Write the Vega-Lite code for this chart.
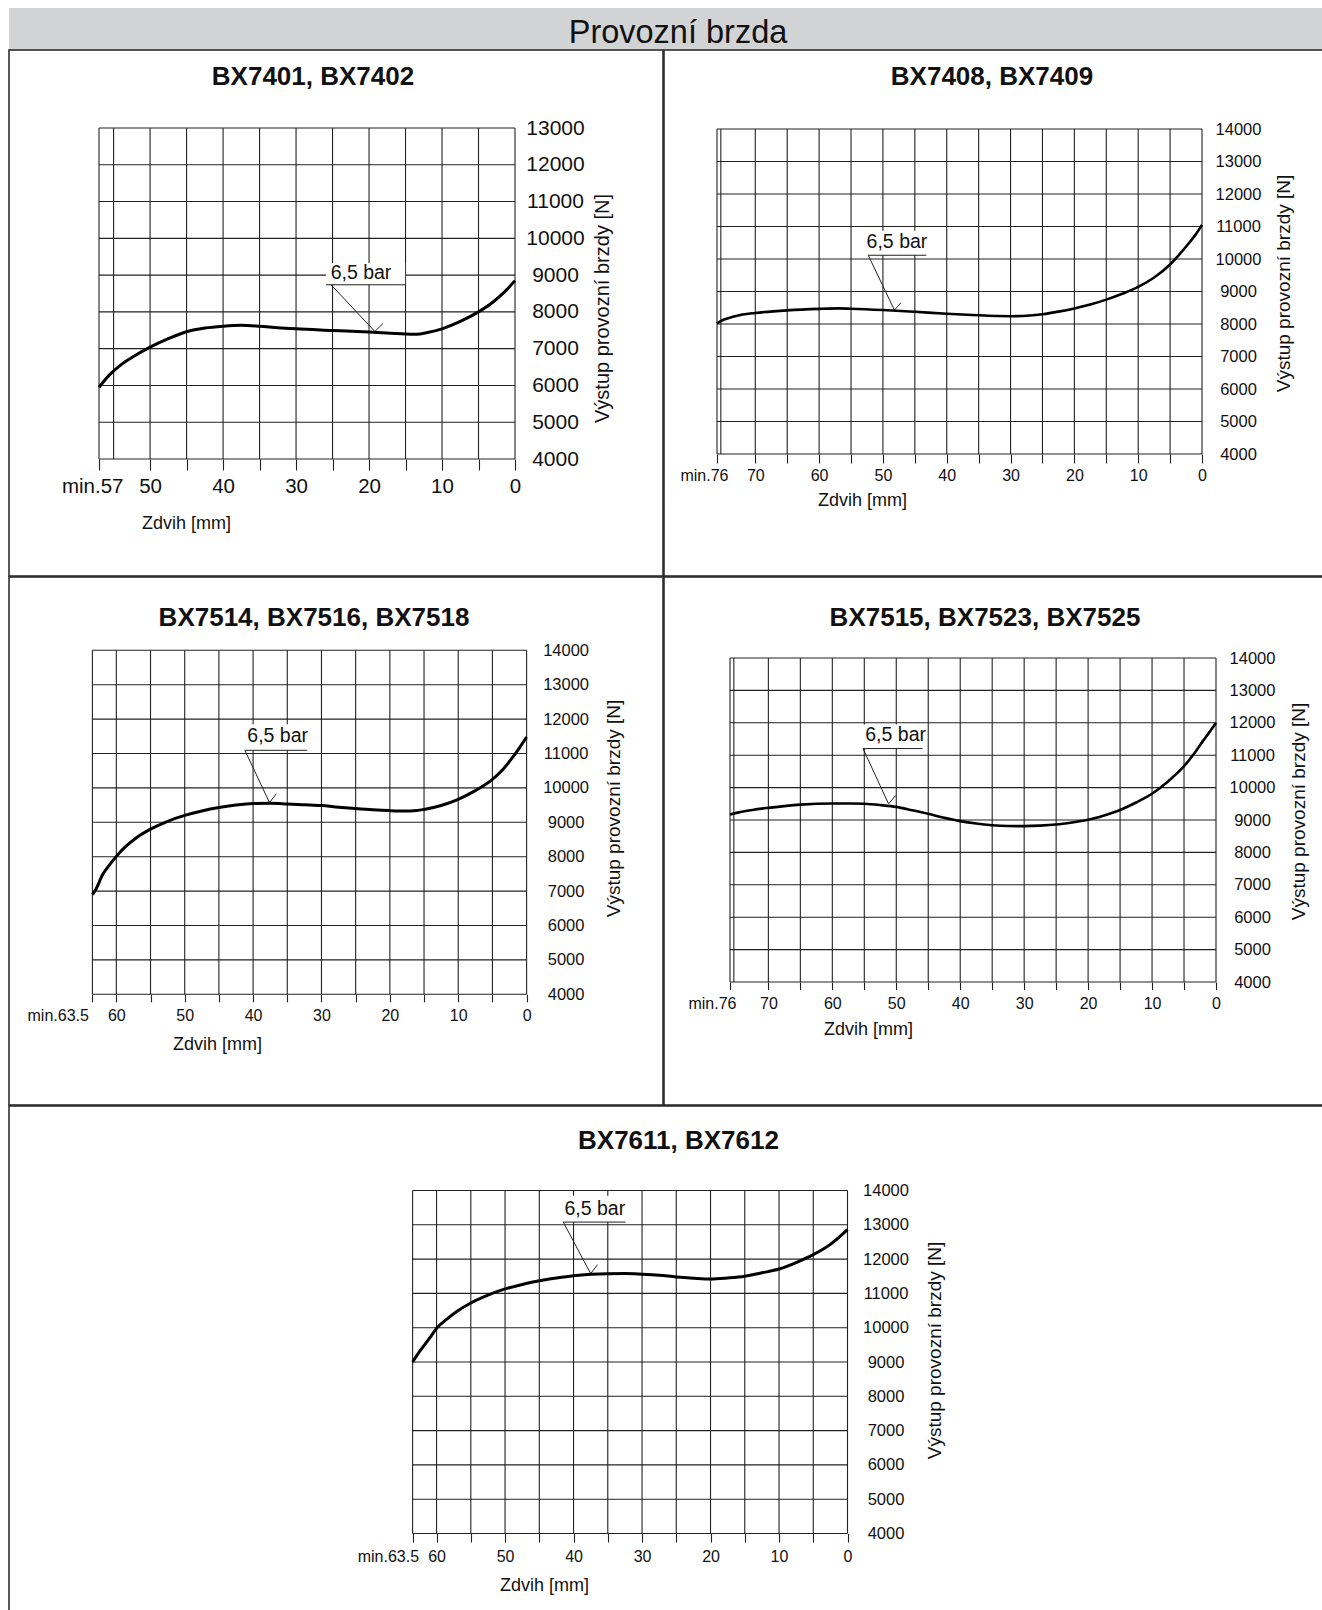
{
  "$schema": "https://vega.github.io/schema/vega-lite/v6.json",
  "padding": {"left": 8, "top": 8, "right": 0, "bottom": 0},
  "spacing": -1.5,
  "datasets": {
    "vx1": [{"x":57},{"x":55},{"x":50},{"x":45},{"x":40},{"x":35},{"x":30},{"x":25},{"x":20},{"x":15},{"x":10},{"x":5},{"x":0}],
    "hy1": [{"y":4000},{"y":5000},{"y":6000},{"y":7000},{"y":8000},{"y":9000},{"y":10000},{"y":11000},{"y":12000},{"y":13000}],
    "vx76": [{"x":76},{"x":75.4},{"x":70},{"x":65},{"x":60},{"x":55},{"x":50},{"x":45},{"x":40},{"x":35},{"x":30},{"x":25},{"x":20},{"x":15},{"x":10},{"x":5},{"x":0}],
    "vx63": [{"x":63.5},{"x":60},{"x":55},{"x":50},{"x":45},{"x":40},{"x":35},{"x":30},{"x":25},{"x":20},{"x":15},{"x":10},{"x":5},{"x":0}],
    "hy14": [{"y":4000},{"y":5000},{"y":6000},{"y":7000},{"y":8000},{"y":9000},{"y":10000},{"y":11000},{"y":12000},{"y":13000},{"y":14000}],
    "c1": [{"x":57,"y":5950},{"x":55.5,"y":6300},{"x":54,"y":6560},{"x":52,"y":6820},{"x":50,"y":7040},{"x":47.5,"y":7270},{"x":45,"y":7460},{"x":42.5,"y":7560},{"x":40,"y":7610},{"x":37.5,"y":7635},{"x":35,"y":7610},{"x":32.5,"y":7570},{"x":30,"y":7540},{"x":25,"y":7495},{"x":20,"y":7450},{"x":17,"y":7420},{"x":15,"y":7400},{"x":13.5,"y":7395},{"x":12,"y":7440},{"x":10,"y":7540},{"x":7.5,"y":7740},{"x":5,"y":8000},{"x":3,"y":8270},{"x":1.5,"y":8530},{"x":0,"y":8850}],
    "c2": [{"x":76,"y":8020},{"x":75,"y":8130},{"x":73.5,"y":8220},{"x":72,"y":8290},{"x":70,"y":8340},{"x":65,"y":8420},{"x":60,"y":8465},{"x":57,"y":8480},{"x":55,"y":8470},{"x":50,"y":8430},{"x":45,"y":8375},{"x":40,"y":8315},{"x":35,"y":8270},{"x":32,"y":8245},{"x":30,"y":8240},{"x":27,"y":8260},{"x":25,"y":8300},{"x":22.5,"y":8380},{"x":20,"y":8480},{"x":17.5,"y":8600},{"x":15,"y":8750},{"x":12.5,"y":8930},{"x":10,"y":9140},{"x":7.5,"y":9430},{"x":5,"y":9830},{"x":3.5,"y":10150},{"x":2,"y":10500},{"x":1,"y":10750},{"x":0,"y":11050}],
    "c3": [{"x":63.5,"y":6900},{"x":63,"y":7050},{"x":62,"y":7480},{"x":61,"y":7760},{"x":60,"y":8010},{"x":58.5,"y":8320},{"x":57,"y":8560},{"x":55,"y":8800},{"x":52.5,"y":9030},{"x":50,"y":9200},{"x":47.5,"y":9330},{"x":45,"y":9430},{"x":42.5,"y":9500},{"x":40,"y":9545},{"x":37.5,"y":9555},{"x":35,"y":9535},{"x":32.5,"y":9510},{"x":30,"y":9485},{"x":27.5,"y":9440},{"x":25,"y":9400},{"x":22.5,"y":9365},{"x":20,"y":9340},{"x":18,"y":9330},{"x":16,"y":9345},{"x":15,"y":9375},{"x":12.5,"y":9490},{"x":10,"y":9670},{"x":7.5,"y":9920},{"x":5,"y":10250},{"x":3.5,"y":10530},{"x":2,"y":10900},{"x":1,"y":11180},{"x":0,"y":11480}],
    "c4": [{"x":76,"y":9170},{"x":75,"y":9220},{"x":72.5,"y":9310},{"x":70,"y":9375},{"x":65,"y":9475},{"x":60,"y":9510},{"x":57,"y":9510},{"x":55,"y":9500},{"x":52.5,"y":9460},{"x":50,"y":9405},{"x":47.5,"y":9300},{"x":45,"y":9190},{"x":42.5,"y":9070},{"x":40,"y":8965},{"x":37.5,"y":8890},{"x":35,"y":8840},{"x":32.5,"y":8815},{"x":30,"y":8810},{"x":27.5,"y":8825},{"x":25,"y":8860},{"x":22.5,"y":8925},{"x":20,"y":9005},{"x":17.5,"y":9140},{"x":15,"y":9310},{"x":12.5,"y":9540},{"x":10,"y":9810},{"x":7.5,"y":10190},{"x":5,"y":10660},{"x":3.5,"y":11030},{"x":2,"y":11450},{"x":1,"y":11720},{"x":0,"y":12000}],
    "c5": [{"x":63.5,"y":9000},{"x":62.5,"y":9300},{"x":61,"y":9700},{"x":60,"y":9980},{"x":58.5,"y":10250},{"x":57,"y":10480},{"x":55,"y":10720},{"x":52.5,"y":10950},{"x":50,"y":11130},{"x":47.5,"y":11260},{"x":45,"y":11370},{"x":42.5,"y":11450},{"x":40,"y":11515},{"x":37.5,"y":11555},{"x":35,"y":11575},{"x":32.5,"y":11580},{"x":30,"y":11560},{"x":27.5,"y":11530},{"x":25,"y":11480},{"x":22.5,"y":11445},{"x":20,"y":11420},{"x":17.5,"y":11450},{"x":15,"y":11500},{"x":12.5,"y":11600},{"x":10,"y":11710},{"x":7.5,"y":11900},{"x":5,"y":12130},{"x":2.5,"y":12430},{"x":0,"y":12860}],
    "a1": [{"part":"box","x":25.9,"x2":15.05,"y":8737,"y2":9330},{"part":"seg","x":25.9,"x2":15.05,"y":8737,"y2":8737},{"part":"seg","x":25.2,"x2":19.2,"y":8737,"y2":7466},{"part":"seg","x":19.2,"x2":18.1,"y":7466,"y2":7680},{"part":"label","x":21.1,"y":9054,"label":"6,5 bar"}],
    "a2": [{"part":"box","x":52.3,"x2":43.2,"y":10115,"y2":10870},{"part":"seg","x":52.3,"x2":43.2,"y":10115,"y2":10115},{"part":"seg","x":52.3,"x2":48.2,"y":10115,"y2":8427},{"part":"seg","x":48.2,"x2":47.2,"y":8427,"y2":8650},{"part":"label","x":47.8,"y":10523,"label":"6,5 bar"}],
    "a3": [{"part":"box","x":41.2,"x2":32.1,"y":11093,"y2":11850},{"part":"seg","x":41.2,"x2":32.1,"y":11093,"y2":11093},{"part":"seg","x":41.2,"x2":37.6,"y":11093,"y2":9572},{"part":"seg","x":37.6,"x2":36.6,"y":9572,"y2":9833},{"part":"label","x":36.4,"y":11510,"label":"6,5 bar"}],
    "a4": [{"part":"box","x":55.2,"x2":45.9,"y":11205,"y2":11950},{"part":"seg","x":55.2,"x2":45.9,"y":11205,"y2":11205},{"part":"seg","x":55.2,"x2":51.2,"y":11205,"y2":9498},{"part":"seg","x":51.2,"x2":50.1,"y":9498,"y2":9755},{"part":"label","x":50.1,"y":11636,"label":"6,5 bar"}],
    "a5": [{"part":"box","x":41.5,"x2":32.4,"y":13079,"y2":13850},{"part":"seg","x":41.5,"x2":32.4,"y":13079,"y2":13079},{"part":"seg","x":41.5,"x2":37.5,"y":13079,"y2":11575},{"part":"seg","x":37.5,"x2":36.5,"y":11575,"y2":11837},{"part":"label","x":36.9,"y":13467,"label":"6,5 bar"}]
  },
  "vconcat": [
    {
      "width": 1314, "height": 42,
      "data": {"values": []},
      "mark": "point",
      "view": {"fill": "#d2d3d4"},
      "title": {"text": "Provozní brzda", "anchor": "middle", "frame": "group", "offset": -41, "dx": 12, "fontSize": 32.5, "fontWeight": "normal", "color": "#111"}
    },
    {
      "spacing": -1.5,
      "hconcat": [
        {
          "width": 654, "height": 526,
          "title": {"text": "BX7401, BX7402", "anchor": "middle", "frame": "group", "offset": -40, "dx": -23, "fontSize": 26, "fontWeight": "bold", "color": "#111"},
          "layer": [
            {"data": {"name": "vx1"}, "mark": {"type": "rule", "color": "#222", "strokeWidth": 1.1},
             "encoding": {"x": {"field": "x", "type": "quantitative", "scale": {"domain": [57, 0], "range": [90, 506], "nice": false, "zero": false}},
                          "y": {"datum": 4000, "type": "quantitative", "scale": {"domain": [4000, 13000], "range": [409, 78], "nice": false, "zero": false}},
                          "y2": {"datum": 13000}}},
            {"data": {"name": "hy1"}, "mark": {"type": "rule", "color": "#222", "strokeWidth": 1.1},
             "encoding": {"y": {"field": "y", "type": "quantitative"}, "x": {"datum": 57, "type": "quantitative"}, "x2": {"datum": 0}}},
            {"data": {"name": "a1"}, "transform": [{"filter": "datum.part == 'box'"}], "mark": {"type": "rect", "fill": "#ffffff"},
             "encoding": {"x": {"field": "x", "type": "quantitative"}, "x2": {"field": "x2"}, "y": {"field": "y", "type": "quantitative"}, "y2": {"field": "y2"}}},
            {"data": {"name": "a1"}, "transform": [{"filter": "datum.part == 'seg'"}], "mark": {"type": "rule", "color": "#222", "strokeWidth": 1},
             "encoding": {"x": {"field": "x", "type": "quantitative"}, "x2": {"field": "x2"}, "y": {"field": "y", "type": "quantitative"}, "y2": {"field": "y2"}}},
            {"data": {"name": "a1"}, "transform": [{"filter": "datum.part == 'label'"}], "mark": {"type": "text", "fontSize": 19.5, "align": "center", "baseline": "middle", "color": "#111"},
             "encoding": {"x": {"field": "x", "type": "quantitative"}, "y": {"field": "y", "type": "quantitative"}, "text": {"field": "label"}}},
            {"data": {"name": "c1"}, "mark": {"type": "line", "color": "#000", "strokeWidth": 3, "interpolate": "monotone"},
             "encoding": {"x": {"field": "x", "type": "quantitative"}, "y": {"field": "y", "type": "quantitative"}}}
          ],
          "encoding": {
            "x": {"type": "quantitative",
                  "axis": {"orient": "bottom", "offset": -117, "values": [57,50,45,40,35,30,25,20,15,10,5,0], "format": "d", "tickSize": 11, "labelFontSize": 20.5, "labelBaseline": "middle", "labelPadding": 16,
                           "labelExpr": "datum.value == 57 ? 'min.57' : (datum.value % 10 == 0 ? datum.label : '')",
                           "labelAlign": {"condition": {"test": "datum.value == 57", "value": "right"}, "value": "center"},
                           "labelOffset": {"condition": {"test": "datum.value == 57", "value": 24}, "value": 0},
                           "title": "Zdvih [mm]", "titleFontSize": 18, "titleX": 177, "titleY": 64, "titleAlign": "center", "titleBaseline": "middle"}},
            "y": {"type": "quantitative",
                  "axis": {"orient": "right", "offset": -148, "values": [4000,5000,6000,7000,8000,9000,10000,11000,12000,13000], "format": "d", "ticks": false, "labelFontSize": 21, "labelAlign": "center", "labelBaseline": "middle", "labelPadding": 40,
                           "title": "Výstup provozní brzdy [N]", "titleFontSize": 20, "titleAngle": 270, "titleX": 87, "titleY": 258, "titleAlign": "center", "titleBaseline": "middle"}}
          }
        },
        {
          "width": 661, "height": 526,
          "title": {"text": "BX7408, BX7409", "anchor": "middle", "frame": "group", "offset": -40, "dx": -2.5, "fontSize": 26, "fontWeight": "bold", "color": "#111"},
          "layer": [
            {"data": {"name": "vx76"}, "mark": {"type": "rule", "color": "#222", "strokeWidth": 1.1},
             "encoding": {"x": {"field": "x", "type": "quantitative", "scale": {"domain": [76, 0], "range": [53, 538], "nice": false, "zero": false}},
                          "y": {"datum": 4000, "type": "quantitative", "scale": {"domain": [4000, 14000], "range": [404, 79], "nice": false, "zero": false}},
                          "y2": {"datum": 14000}}},
            {"data": {"name": "hy14"}, "mark": {"type": "rule", "color": "#222", "strokeWidth": 1.1},
             "encoding": {"y": {"field": "y", "type": "quantitative"}, "x": {"datum": 76, "type": "quantitative"}, "x2": {"datum": 0}}},
            {"data": {"name": "a2"}, "transform": [{"filter": "datum.part == 'box'"}], "mark": {"type": "rect", "fill": "#ffffff"},
             "encoding": {"x": {"field": "x", "type": "quantitative"}, "x2": {"field": "x2"}, "y": {"field": "y", "type": "quantitative"}, "y2": {"field": "y2"}}},
            {"data": {"name": "a2"}, "transform": [{"filter": "datum.part == 'seg'"}], "mark": {"type": "rule", "color": "#222", "strokeWidth": 1},
             "encoding": {"x": {"field": "x", "type": "quantitative"}, "x2": {"field": "x2"}, "y": {"field": "y", "type": "quantitative"}, "y2": {"field": "y2"}}},
            {"data": {"name": "a2"}, "transform": [{"filter": "datum.part == 'label'"}], "mark": {"type": "text", "fontSize": 19.5, "align": "center", "baseline": "middle", "color": "#111"},
             "encoding": {"x": {"field": "x", "type": "quantitative"}, "y": {"field": "y", "type": "quantitative"}, "text": {"field": "label"}}},
            {"data": {"name": "c2"}, "mark": {"type": "line", "color": "#000", "strokeWidth": 2.6, "interpolate": "monotone"},
             "encoding": {"x": {"field": "x", "type": "quantitative"}, "y": {"field": "y", "type": "quantitative"}}}
          ],
          "encoding": {
            "x": {"type": "quantitative",
                  "axis": {"orient": "bottom", "offset": -122, "values": [76,70,65,60,55,50,45,40,35,30,25,20,15,10,5,0], "format": "d", "tickSize": 9, "labelFontSize": 16, "labelBaseline": "middle", "labelPadding": 12,
                           "labelExpr": "datum.value == 76 ? 'min.76' : (datum.value % 10 == 0 ? datum.label : '')",
                           "labelAlign": {"condition": {"test": "datum.value == 76", "value": "right"}, "value": "center"},
                           "labelOffset": {"condition": {"test": "datum.value == 76", "value": 11}, "value": 0},
                           "title": "Zdvih [mm]", "titleFontSize": 18, "titleX": 198, "titleY": 46, "titleAlign": "center", "titleBaseline": "middle"}},
            "y": {"type": "quantitative",
                  "axis": {"orient": "right", "offset": -123, "values": [4000,5000,6000,7000,8000,9000,10000,11000,12000,13000,14000], "format": "d", "ticks": false, "labelFontSize": 16.5, "labelAlign": "center", "labelBaseline": "middle", "labelPadding": 36,
                           "title": "Výstup provozní brzdy  [N]", "titleFontSize": 19, "titleAngle": 270, "titleX": 81, "titleY": 233, "titleAlign": "center", "titleBaseline": "middle"}}
          }
        }
      ]
    },
    {
      "spacing": -1.5,
      "hconcat": [
        {
          "width": 654, "height": 528,
          "title": {"text": "BX7514, BX7516, BX7518", "anchor": "middle", "frame": "group", "offset": -54, "dx": -22, "fontSize": 26, "fontWeight": "bold", "color": "#111"},
          "layer": [
            {"data": {"name": "vx63"}, "mark": {"type": "rule", "color": "#222", "strokeWidth": 1.1},
             "encoding": {"x": {"field": "x", "type": "quantitative", "scale": {"domain": [63.5, 0], "range": [83.4, 517.6], "nice": false, "zero": false}},
                          "y": {"datum": 4000, "type": "quantitative", "scale": {"domain": [4000, 14000], "range": [417.3, 73.3], "nice": false, "zero": false}},
                          "y2": {"datum": 14000}}},
            {"data": {"name": "hy14"}, "mark": {"type": "rule", "color": "#222", "strokeWidth": 1.1},
             "encoding": {"y": {"field": "y", "type": "quantitative"}, "x": {"datum": 63.5, "type": "quantitative"}, "x2": {"datum": 0}}},
            {"data": {"name": "a3"}, "transform": [{"filter": "datum.part == 'box'"}], "mark": {"type": "rect", "fill": "#ffffff"},
             "encoding": {"x": {"field": "x", "type": "quantitative"}, "x2": {"field": "x2"}, "y": {"field": "y", "type": "quantitative"}, "y2": {"field": "y2"}}},
            {"data": {"name": "a3"}, "transform": [{"filter": "datum.part == 'seg'"}], "mark": {"type": "rule", "color": "#222", "strokeWidth": 1},
             "encoding": {"x": {"field": "x", "type": "quantitative"}, "x2": {"field": "x2"}, "y": {"field": "y", "type": "quantitative"}, "y2": {"field": "y2"}}},
            {"data": {"name": "a3"}, "transform": [{"filter": "datum.part == 'label'"}], "mark": {"type": "text", "fontSize": 19.5, "align": "center", "baseline": "middle", "color": "#111"},
             "encoding": {"x": {"field": "x", "type": "quantitative"}, "y": {"field": "y", "type": "quantitative"}, "text": {"field": "label"}}},
            {"data": {"name": "c3"}, "mark": {"type": "line", "color": "#000", "strokeWidth": 3, "interpolate": "monotone"},
             "encoding": {"x": {"field": "x", "type": "quantitative"}, "y": {"field": "y", "type": "quantitative"}}}
          ],
          "encoding": {
            "x": {"type": "quantitative",
                  "axis": {"orient": "bottom", "offset": -110.7, "values": [63.5,60,55,50,45,40,35,30,25,20,15,10,5,0], "tickSize": 7.5, "labelFontSize": 16, "labelBaseline": "middle", "labelPadding": 14,
                           "labelExpr": "datum.value == 63.5 ? 'min.63.5' : (datum.value % 10 == 0 ? format(datum.value, 'd') : '')",
                           "labelAlign": {"condition": {"test": "datum.value == 63.5", "value": "right"}, "value": "center"},
                           "labelOffset": {"condition": {"test": "datum.value == 63.5", "value": -4}, "value": 0},
                           "title": "Zdvih [mm]", "titleFontSize": 18, "titleX": 208, "titleY": 50, "titleAlign": "center", "titleBaseline": "middle"}},
            "y": {"type": "quantitative",
                  "axis": {"orient": "right", "offset": -136.4, "values": [4000,5000,6000,7000,8000,9000,10000,11000,12000,13000,14000], "format": "d", "ticks": false, "labelFontSize": 16.5, "labelAlign": "center", "labelBaseline": "middle", "labelPadding": 39,
                           "title": "Výstup provozní brzdy  [N]", "titleFontSize": 19, "titleAngle": 270, "titleX": 86.5, "titleY": 231, "titleAlign": "center", "titleBaseline": "middle"}}
          }
        },
        {
          "width": 661, "height": 528,
          "title": {"text": "BX7515, BX7523, BX7525", "anchor": "middle", "frame": "group", "offset": -54, "dx": -9.5, "fontSize": 26, "fontWeight": "bold", "color": "#111"},
          "layer": [
            {"data": {"name": "vx76"}, "mark": {"type": "rule", "color": "#222", "strokeWidth": 1.1},
             "encoding": {"x": {"field": "x", "type": "quantitative", "scale": {"domain": [76, 0], "range": [66, 552], "nice": false, "zero": false}},
                          "y": {"datum": 4000, "type": "quantitative", "scale": {"domain": [4000, 14000], "range": [405, 81], "nice": false, "zero": false}},
                          "y2": {"datum": 14000}}},
            {"data": {"name": "hy14"}, "mark": {"type": "rule", "color": "#222", "strokeWidth": 1.1},
             "encoding": {"y": {"field": "y", "type": "quantitative"}, "x": {"datum": 76, "type": "quantitative"}, "x2": {"datum": 0}}},
            {"data": {"name": "a4"}, "transform": [{"filter": "datum.part == 'box'"}], "mark": {"type": "rect", "fill": "#ffffff"},
             "encoding": {"x": {"field": "x", "type": "quantitative"}, "x2": {"field": "x2"}, "y": {"field": "y", "type": "quantitative"}, "y2": {"field": "y2"}}},
            {"data": {"name": "a4"}, "transform": [{"filter": "datum.part == 'seg'"}], "mark": {"type": "rule", "color": "#222", "strokeWidth": 1},
             "encoding": {"x": {"field": "x", "type": "quantitative"}, "x2": {"field": "x2"}, "y": {"field": "y", "type": "quantitative"}, "y2": {"field": "y2"}}},
            {"data": {"name": "a4"}, "transform": [{"filter": "datum.part == 'label'"}], "mark": {"type": "text", "fontSize": 19.5, "align": "center", "baseline": "middle", "color": "#111"},
             "encoding": {"x": {"field": "x", "type": "quantitative"}, "y": {"field": "y", "type": "quantitative"}, "text": {"field": "label"}}},
            {"data": {"name": "c4"}, "mark": {"type": "line", "color": "#000", "strokeWidth": 2.6, "interpolate": "monotone"},
             "encoding": {"x": {"field": "x", "type": "quantitative"}, "y": {"field": "y", "type": "quantitative"}}}
          ],
          "encoding": {
            "x": {"type": "quantitative",
                  "axis": {"orient": "bottom", "offset": -123, "values": [76,70,65,60,55,50,45,40,35,30,25,20,15,10,5,0], "format": "d", "tickSize": 7.5, "labelFontSize": 16, "labelBaseline": "middle", "labelPadding": 14,
                           "labelExpr": "datum.value == 76 ? 'min.76' : (datum.value % 10 == 0 ? datum.label : '')",
                           "labelAlign": {"condition": {"test": "datum.value == 76", "value": "right"}, "value": "center"},
                           "labelOffset": {"condition": {"test": "datum.value == 76", "value": 6}, "value": 0},
                           "title": "Zdvih [mm]", "titleFontSize": 18, "titleX": 204, "titleY": 47, "titleAlign": "center", "titleBaseline": "middle"}},
            "y": {"type": "quantitative",
                  "axis": {"orient": "right", "offset": -109, "values": [4000,5000,6000,7000,8000,9000,10000,11000,12000,13000,14000], "format": "d", "ticks": false, "labelFontSize": 16.5, "labelAlign": "center", "labelBaseline": "middle", "labelPadding": 36,
                           "title": "Výstup provozní brzdy  [N]", "titleFontSize": 19, "titleAngle": 270, "titleX": 82, "titleY": 234, "titleAlign": "center", "titleBaseline": "middle"}}
          }
        }
      ]
    },
    {
      "width": 1314, "height": 506,
      "title": {"text": "BX7611, BX7612", "anchor": "middle", "frame": "group", "offset": -48, "dx": 12.5, "fontSize": 26, "fontWeight": "bold", "color": "#111"},
      "layer": [
        {"data": {"name": "vx63"}, "mark": {"type": "rule", "color": "#222", "strokeWidth": 1.1},
         "encoding": {"x": {"field": "x", "type": "quantitative", "scale": {"domain": [63.5, 0], "range": [403.6, 838.5], "nice": false, "zero": false}},
                      "y": {"datum": 4000, "type": "quantitative", "scale": {"domain": [4000, 14000], "range": [427.5, 84.5], "nice": false, "zero": false}},
                      "y2": {"datum": 14000}}},
        {"data": {"name": "hy14"}, "mark": {"type": "rule", "color": "#222", "strokeWidth": 1.1},
         "encoding": {"y": {"field": "y", "type": "quantitative"}, "x": {"datum": 63.5, "type": "quantitative"}, "x2": {"datum": 0}}},
        {"data": {"name": "a5"}, "transform": [{"filter": "datum.part == 'box'"}], "mark": {"type": "rect", "fill": "#ffffff"},
         "encoding": {"x": {"field": "x", "type": "quantitative"}, "x2": {"field": "x2"}, "y": {"field": "y", "type": "quantitative"}, "y2": {"field": "y2"}}},
        {"data": {"name": "a5"}, "transform": [{"filter": "datum.part == 'seg'"}], "mark": {"type": "rule", "color": "#222", "strokeWidth": 1},
         "encoding": {"x": {"field": "x", "type": "quantitative"}, "x2": {"field": "x2"}, "y": {"field": "y", "type": "quantitative"}, "y2": {"field": "y2"}}},
        {"data": {"name": "a5"}, "transform": [{"filter": "datum.part == 'label'"}], "mark": {"type": "text", "fontSize": 19.5, "align": "center", "baseline": "middle", "color": "#111"},
         "encoding": {"x": {"field": "x", "type": "quantitative"}, "y": {"field": "y", "type": "quantitative"}, "text": {"field": "label"}}},
        {"data": {"name": "c5"}, "mark": {"type": "line", "color": "#000", "strokeWidth": 3, "interpolate": "monotone"},
         "encoding": {"x": {"field": "x", "type": "quantitative"}, "y": {"field": "y", "type": "quantitative"}}}
      ],
      "encoding": {
        "x": {"type": "quantitative",
              "axis": {"orient": "bottom", "offset": -78.5, "values": [63.5,60,55,50,45,40,35,30,25,20,15,10,5,0], "tickSize": 8.5, "labelFontSize": 16, "labelBaseline": "middle", "labelPadding": 14,
                       "labelExpr": "datum.value == 63.5 ? 'min.63.5' : (datum.value % 10 == 0 ? format(datum.value, 'd') : '')",
                       "labelAlign": {"condition": {"test": "datum.value == 63.5", "value": "right"}, "value": "center"},
                       "labelOffset": {"condition": {"test": "datum.value == 63.5", "value": 6}, "value": 0},
                       "title": "Zdvih [mm]", "titleFontSize": 18, "titleX": 535, "titleY": 51.5, "titleAlign": "center", "titleBaseline": "middle"}},
        "y": {"type": "quantitative",
              "axis": {"orient": "right", "offset": -475.5, "values": [4000,5000,6000,7000,8000,9000,10000,11000,12000,13000,14000], "format": "d", "ticks": false, "labelFontSize": 16.5, "labelAlign": "center", "labelBaseline": "middle", "labelPadding": 38,
                       "title": "Výstup provozní brzdy  [N]", "titleFontSize": 19, "titleAngle": 270, "titleX": 86.5, "titleY": 244, "titleAlign": "center", "titleBaseline": "middle"}}
      }
    }
  ],
  "config": {
    "font": "Liberation Sans",
    "background": "#ffffff",
    "view": {"stroke": "#222", "strokeWidth": 1.5},
    "axis": {"domain": false, "grid": false, "labelColor": "#111", "tickColor": "#222", "tickWidth": 1.1, "titleColor": "#111", "titleFontWeight": "normal", "labelFlush": false, "labelOverlap": false, "labelBound": false}
  }
}
